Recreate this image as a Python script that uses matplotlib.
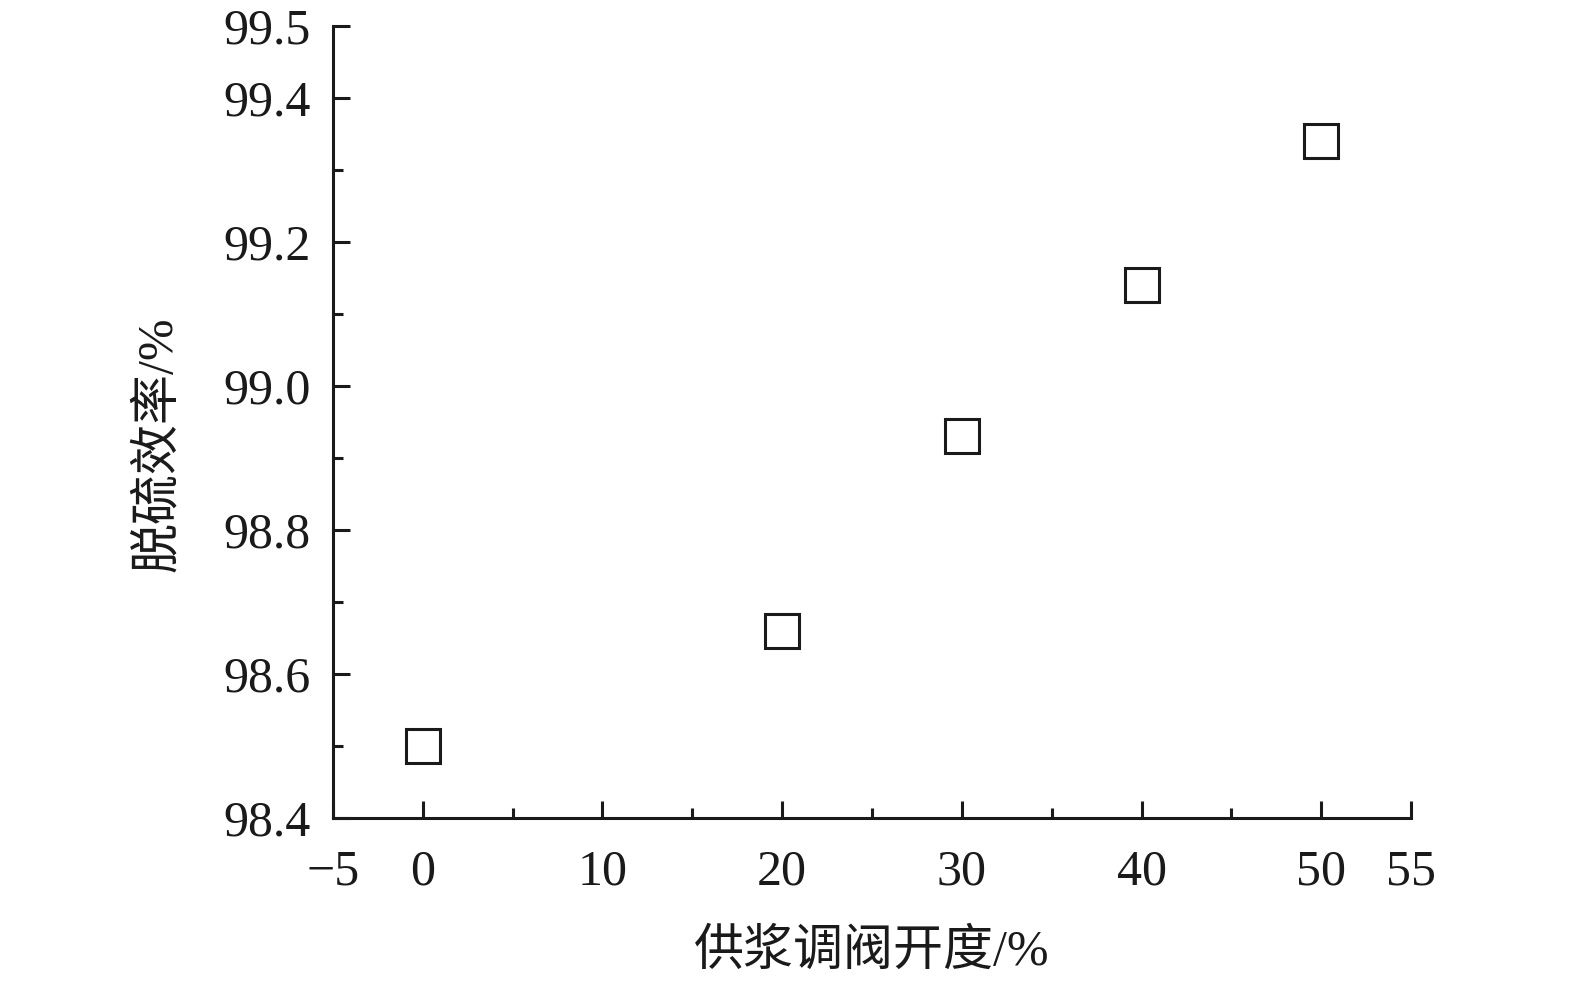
import matplotlib
matplotlib.use("Agg")
import matplotlib.pyplot as plt
from matplotlib.ticker import FixedLocator

# 供浆调阀开度 vs 脱硫效率
opening = [0, 20, 30, 40, 50]
efficiency = [98.50, 98.66, 98.93, 99.14, 99.34]

x_major = [-5, 0, 10, 20, 30, 40, 50, 55]
x_minor = [5, 15, 25, 35, 45]
y_major = [98.4, 98.6, 98.8, 99.0, 99.2, 99.4, 99.5]
y_minor = [98.5, 98.7, 98.9, 99.1, 99.3]

plt.rcParams["font.family"] = ["Liberation Serif", "Noto Sans CJK SC"]
plt.rcParams["axes.unicode_minus"] = True

fig = plt.figure(figsize=(15.75, 9.84), dpi=100)
ax = fig.add_axes([0.2114, 0.1687, 0.6845, 0.8049])

ax.plot(opening, efficiency, linestyle="none", marker="s", markersize=25,
        markerfacecolor="white", markeredgecolor="#1a1a1a", markeredgewidth=2.2)

ax.set_xlim(-5, 55)
ax.set_ylim(98.4, 99.5)
ax.xaxis.set_major_locator(FixedLocator(x_major))
ax.xaxis.set_minor_locator(FixedLocator(x_minor))
ax.yaxis.set_major_locator(FixedLocator(y_major))
ax.yaxis.set_minor_locator(FixedLocator(y_minor))
ax.set_xticklabels(["\u22125" if v < 0 else str(v) for v in x_major])
ax.set_yticklabels([f"{v:.1f}" for v in y_major])

for s in ["top", "right"]:
    ax.spines[s].set_visible(False)
for s in ["left", "bottom"]:
    ax.spines[s].set_linewidth(2.2)
    ax.spines[s].set_color("#1a1a1a")

ax.tick_params(axis="both", which="major", direction="in", length=12, width=2.2,
               labelsize=36, color="#1a1a1a", labelcolor="#1a1a1a")
ax.tick_params(axis="both", which="minor", direction="in", length=7, width=2.2,
               color="#1a1a1a")
ax.tick_params(axis="x", which="major", pad=22)
ax.tick_params(axis="y", which="major", pad=16)

ax.set_xlabel("供浆调阀开度/%", fontsize=36, color="#1a1a1a", labelpad=25)
ax.set_ylabel("脱硫效率/%", fontsize=36, color="#1a1a1a")
ax.yaxis.set_label_coords(-0.14, 0.472)

fig.savefig("out.png", dpi=100)
